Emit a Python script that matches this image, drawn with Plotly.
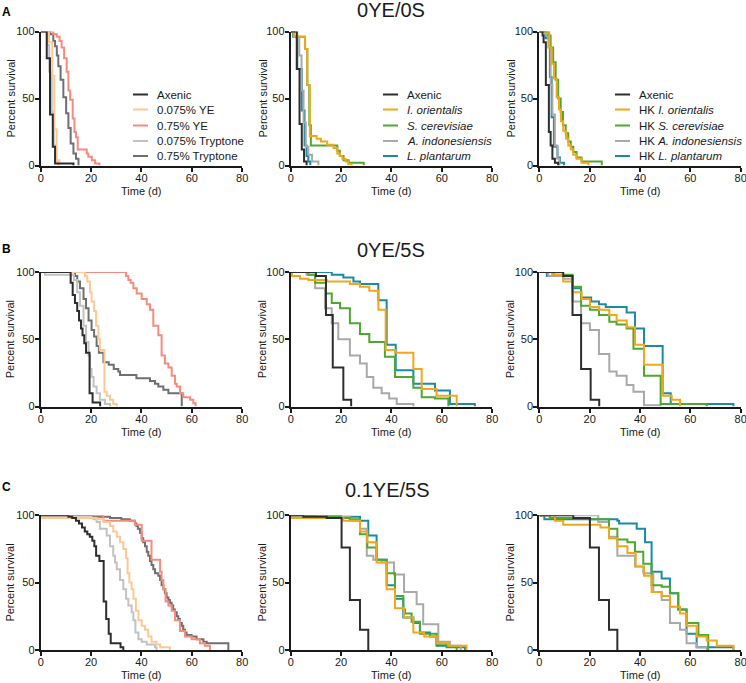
import plotly.graph_objects as go

W, H = 746, 683

# ---------------- colours ----------------
COL_AXENIC = "#2e2e2e"
COL_YE075 = "#fcc995"
COL_YE75 = "#f58b7c"
COL_TRY075 = "#c2c2c2"
COL_TRY75 = "#6f6f6f"
COL_IORI = "#f2a71b"
COL_SCER = "#4ea830"
COL_AIND = "#a9a9a9"
COL_LPL = "#1b8aa6"

# ---------------- labels ----------------
row_titles = ["0YE/0S", "0YE/5S", "0.1YE/5S"]
panel_letters = ["A", "B", "C"]
x_ticks = [0, 20, 40, 60, 80]
y_ticks = [0, 50, 100]
legend_a1 = ["Axenic", "0.075% YE", "0.75% YE", "0.075% Tryptone", "0.75% Tryptone"]
legend_a2 = ["Axenic", "<i>I. orientalis</i>", "<i>S. cerevisiae</i>",
             "<i>A. indonesiensis</i>", "<i>L. plantarum</i>"]
legend_a3 = ["Axenic", "HK <i>I. orientalis</i>", "HK <i>S. cerevisiae</i>",
             "HK <i>A. indonesiensis</i>", "HK <i>L. plantarum</i>"]

# ---------------- data: row A (0YE/0S) ----------------
a1_axenic_t = [0, 2.4, 3.7, 4.8, 5.7, 13.0]
a1_axenic_s = [100, 80, 38, 14, 1.5, 0]
a1_ye075_t = [0, 3.3, 4.6, 5.4, 6.3, 7.4]
a1_ye075_s = [100, 92, 67, 27, 4, 0]
a1_ye75_t = [0, 5.0, 6.4, 7.5, 8.3, 9.3, 10.3, 11.0, 11.7, 12.7, 13.4, 14.0, 14.7, 18.3, 18.9, 20.3, 21.6, 23.3]
a1_ye75_s = [100, 98, 96, 93, 88, 80, 70, 56, 49, 35, 25, 21, 12, 9, 6.5, 4, 1.5, 0]
a1_try075_t = [0, 2.6, 3.4, 4.4, 5.2, 6.2, 7.0]
a1_try075_s = [100, 90, 70, 40, 15, 3, 0]
a1_try75_t = [0, 3.7, 5.0, 5.7, 6.4, 7.0, 7.9, 9.0, 10.1, 11.0, 11.9, 13.0, 14.0, 15.0]
a1_try75_s = [100, 98, 93, 89, 82, 74, 64, 51, 39, 28, 16.5, 9, 5, 0]

a2_axenic_t = [0, 2.4, 3.5, 4.4, 5.3, 6.3]
a2_axenic_s = [100, 72, 31, 12, 3, 0]
a2_iori_t = [0, 1.3, 5.7, 6.6, 7.6, 10.3, 12.0, 14.5, 17.0, 18.5, 19.5, 20.5, 21.8, 22.9, 24.2]
a2_iori_s = [100, 96, 87, 60, 22, 20, 18, 15.5, 13, 9, 7, 5, 3, 1, 0]
a2_scer_t = [0, 1.3, 5.7, 6.6, 7.4, 8.0, 18.5, 19.5, 21.0, 23.0, 29.0]
a2_scer_s = [100, 96, 87, 60, 30, 15, 11, 7, 4, 2, 0]
a2_aind_t = [0, 2.6, 3.4, 4.3, 5.1, 6.0, 7.0, 8.5, 11.0]
a2_aind_s = [100, 96, 82, 56, 32, 14, 8, 3, 0]
a2_lpl_t = [0, 1.0, 2.6, 4.4, 5.5, 6.3, 7.0, 7.8]
a2_lpl_s = [100, 96, 72, 41, 15, 7, 3, 0]

a3_axenic_t = [0, 1.3, 1.7, 2.6, 3.8, 4.5, 5.2, 6.2, 7.5]
a3_axenic_s = [100, 97, 92, 60, 25, 15, 5, 2, 0]
a3_iori_t = [0, 4.0, 4.9, 5.8, 6.9, 7.8, 8.6, 9.5, 10.6, 11.5, 12.5, 13.5, 14.8, 16.8, 19.5]
a3_iori_s = [100, 88, 76, 65, 51, 42, 33, 26, 20, 15, 12, 8, 5, 2, 0]
a3_scer_t = [0, 3.6, 4.5, 5.5, 6.5, 7.5, 8.5, 9.4, 10.5, 11.5, 12.5, 13.5, 14.8, 16.8, 24.8]
a3_scer_s = [100, 97, 88, 77, 64, 50, 40, 30, 24, 18, 14, 10, 6, 3, 0]
a3_aind_t = [0, 2.5, 3.6, 4.5, 5.2, 6.2, 7.2, 8.0]
a3_aind_s = [100, 97, 88, 60, 38, 15, 5, 0]
a3_lpl_t = [0, 2.5, 4.2, 4.9, 5.8, 7.2, 8.2, 9.8]
a3_lpl_s = [100, 95, 66, 36, 14, 6, 2, 0]

# ---------------- data: row B (0YE/5S) ----------------
b1_axenic_t = [0, 11.9, 12.7, 13.6, 14.5, 15.2, 16.0, 16.6, 17.3, 18.0, 19.4, 20.6, 23.6]
b1_axenic_s = [100, 92, 83, 77, 71, 64, 58, 53, 47, 40, 10, 3, 0]
b1_ye075_t = [0, 17.6, 18.5, 19.6, 20.2, 21.2, 22.0, 22.9, 23.5, 25.3, 26.2, 27.5, 28.8, 30.2]
b1_ye075_s = [100, 97, 93, 85, 78, 71, 60, 50, 42, 11, 8, 5, 2, 0]
b1_ye75_t = [0, 33.9, 34.8, 35.7, 36.8, 38.1, 40.1, 42.1, 43.4, 44.7, 46.7, 48.0, 49.3, 50.7, 52.0, 53.3, 54.0, 55.3, 56.6, 59.3, 60.6, 61.5]
b1_ye75_s = [100, 97, 94, 92, 88, 84, 80, 76, 72, 60, 53, 38, 32, 29, 23, 17, 15, 10, 7, 5, 2.5, 0]
b1_try075_t = [0, 1.7, 13.2, 14.5, 15.6, 17.0, 18.0, 19.0, 19.6, 20.2, 21.0, 22.2, 23.5, 25.5, 27.5]
b1_try075_s = [100, 98, 94, 85, 75, 60, 48, 38, 28, 22, 15, 10, 5, 2, 0]
b1_try75_t = [0, 13.6, 14.5, 15.6, 17.0, 18.0, 19.0, 20.2, 21.2, 22.2, 23.1, 24.9, 27.0, 29.0, 30.8, 31.5, 38.0, 43.4, 45.4, 46.7, 48.7, 50.7, 56.0]
b1_try75_s = [100, 97, 93, 88, 80, 73, 64, 57, 52, 45, 40, 33, 31, 28, 26, 23.5, 21, 19, 17, 15, 12.5, 10, 0]

b2_axenic_t = [0, 10.0, 14.0, 16.7, 20.9, 24.0]
b2_axenic_s = [100, 97, 68, 29, 5, 0]
b2_iori_t = [0, 0.5, 3.7, 7.0, 14.3, 23.5, 27.5, 31.2, 34.8, 37.7, 41.4, 48.7, 52.0, 57.9, 65.9]
b2_iori_s = [100, 97, 95, 94, 93, 91, 89, 86, 72, 42, 40, 28, 13, 8, 0]
b2_scer_t = [0, 7.0, 9.7, 14.0, 16.3, 19.6, 23.5, 27.5, 31.2, 37.4, 41.4, 48.7, 52.0, 57.3, 62.6]
b2_scer_s = [100, 98, 92, 84, 77, 73, 62, 54, 48, 37, 22, 14, 7, 6, 0]
b2_aind_t = [0, 6.3, 9.7, 13.6, 16.3, 18.9, 23.5, 27.5, 30.2, 32.8, 36.1, 39.1, 42.1, 48.7]
b2_aind_s = [100, 98, 88, 73, 62, 50, 38, 32, 22, 14, 10, 6, 2, 0]
b2_lpl_t = [0, 16.3, 20.9, 24.9, 27.5, 34.8, 38.1, 41.7, 48.7, 57.3, 63.2, 73.1]
b2_lpl_s = [100, 98, 96, 93, 91, 79, 46, 27, 17, 12, 2, 0]

b3_axenic_t = [0, 9.5, 13.2, 16.6, 20.4, 23.8]
b3_axenic_s = [100, 97, 68, 28, 5, 0]
b3_iori_t = [0, 5.0, 9.5, 13.2, 16.8, 20.1, 23.8, 27.8, 30.7, 34.7, 38.0, 41.6, 49.0, 52.6, 55.9]
b3_iori_s = [100, 98, 93, 85, 80, 74, 72, 68, 64, 59, 46, 31, 8, 5, 0]
b3_scer_t = [0, 5.7, 13.2, 16.6, 20.1, 23.7, 27.8, 30.7, 34.7, 37.4, 41.6, 48.2, 66.5]
b3_scer_s = [100, 98, 89, 75, 72, 68, 63, 61, 58, 43, 23, 2, 0]
b3_aind_t = [0, 3.6, 9.5, 13.2, 16.6, 20.1, 23.7, 27.8, 30.7, 34.7, 37.4, 41.6, 48.2]
b3_aind_s = [100, 97, 95, 78, 62, 57, 39, 26, 23, 16, 11, 1, 0]
b3_lpl_t = [0, 3.0, 13.2, 16.6, 20.6, 23.7, 26.4, 34.7, 38.0, 41.6, 49.0, 52.2, 77.1]
b3_lpl_s = [100, 97, 88, 81, 78, 76, 74, 70, 58, 45, 10, 2, 0]

# ---------------- data: row C (0.1YE/5S) ----------------
c1_axenic_t = [0, 11.0, 12.5, 14.0, 15.2, 16.4, 17.5, 18.5, 19.5, 20.5, 21.3, 22.0, 23.3, 25.0, 26.0, 27.0, 27.8, 31.7, 32.8]
c1_axenic_s = [100, 99, 98, 96, 94, 91, 88, 86, 84, 81, 77, 70, 66, 36, 23, 12, 5, 2, 0]
c1_ye075_t = [0, 0.5, 22.2, 25.0, 27.5, 28.8, 30.2, 31.5, 32.8, 33.9, 34.5, 35.2, 36.1, 36.8, 37.8, 38.8, 40.1, 41.4, 42.7, 44.0, 46.0, 47.4, 51.3]
c1_ye075_s = [100, 98, 97, 95, 92, 88, 84, 80, 75, 68, 57, 50, 45, 38, 29, 22, 18, 15, 10, 6, 4, 2, 0]
c1_ye75_t = [0, 24.9, 37.4, 40.1, 44.0, 47.4, 48.0, 48.7, 49.6, 50.7, 52.0, 53.3, 55.3, 57.3, 59.9, 63.2, 65.2, 67.2]
c1_ye75_s = [100, 96, 93, 81, 67, 58, 52, 45, 36, 33, 29, 22, 14, 10, 8, 5, 3, 0]
c1_try075_t = [0, 0.5, 20.9, 22.2, 23.5, 26.2, 27.5, 28.8, 29.5, 30.2, 31.5, 32.8, 33.9, 34.8, 36.1, 36.8, 37.6, 38.8, 40.1, 42.1, 45.4, 46.0]
c1_try075_s = [100, 98, 97, 95, 90, 85, 77, 70, 65, 60, 52, 45, 38, 33, 28, 22, 13, 8, 6, 4, 2, 0]
c1_try75_t = [0, 20.9, 27.5, 32.0, 35.4, 37.4, 38.0, 38.6, 39.4, 40.1, 40.7, 41.4, 42.1, 42.7, 43.4, 44.0, 44.7, 45.4, 46.7, 47.4, 48.0, 48.7, 49.3, 50.0, 50.7, 51.3, 52.0, 52.6, 53.3, 54.0, 54.6, 55.3, 56.0, 56.6, 57.3, 57.9, 59.9, 61.9, 64.6, 65.9, 74.5]
c1_try75_s = [100, 99, 98, 97, 96, 94, 92, 90, 87, 83, 80, 77, 73, 70, 66, 63, 60, 57, 55, 52, 48, 45, 42, 39, 37, 35, 33, 30, 28, 25, 23, 20, 18, 15, 13, 11, 10, 8, 6, 5, 0]

c2_axenic_t = [0, 5.0, 14.3, 20.2, 23.5, 27.5, 30.8]
c2_axenic_s = [100, 99, 98, 76, 37, 15, 0]
c2_iori_t = [0, 0.5, 20.9, 27.5, 30.4, 34.1, 38.1, 41.4, 45.0, 48.7, 53.0, 58.0, 62.6, 69.8]
c2_iori_s = [100, 98, 96, 88, 80, 65, 45, 31, 24, 13, 10, 5, 3, 0]
c2_scer_t = [0, 10.0, 19.6, 23.5, 27.5, 30.4, 34.1, 38.1, 41.4, 44.7, 45.4, 48.0, 51.3, 57.9, 61.9, 65.9]
c2_scer_s = [100, 99, 98, 97, 86, 76, 67, 57, 40, 30, 27, 21, 12, 4.5, 2.5, 0]
c2_aind_t = [0, 20.0, 23.5, 27.5, 30.2, 32.8, 36.1, 41.0, 45.0, 50.0, 52.6, 58.6, 63.2, 67.5]
c2_aind_s = [100, 99, 96, 90, 70, 67, 65, 56, 43, 34, 19, 6, 3, 0]
c2_lpl_t = [0, 20.0, 27.5, 30.8, 34.1, 38.1, 41.4, 44.7, 48.7, 51.3, 55.3, 57.9, 61.9, 69.2]
c2_lpl_s = [100, 99, 96, 85, 67, 48, 38, 24, 20, 13, 10, 3, 2, 0]

c3_axenic_t = [0, 13.5, 20.1, 23.7, 27.7, 31.0]
c3_axenic_s = [100, 98, 76, 37, 15, 0]
c3_iori_t = [0, 6.2, 9.5, 24.3, 27.7, 31.0, 35.0, 38.3, 41.6, 44.6, 48.6, 51.9, 55.9, 58.5, 62.5, 66.5, 70.5, 77.1]
c3_iori_s = [100, 96, 93, 91, 83, 77, 72, 62, 55, 43, 40, 32, 27, 18, 10, 7, 3, 0]
c3_scer_t = [0, 4.2, 20.1, 27.7, 31.0, 35.0, 38.0, 41.3, 44.6, 48.6, 51.9, 55.2, 58.5, 63.2, 67.1]
c3_scer_s = [100, 98, 97, 90, 82, 80, 73, 64, 48, 47, 42, 30, 20, 11, 0]
c3_aind_t = [0, 23.4, 27.7, 31.0, 38.0, 41.3, 45.3, 48.6, 51.9, 55.9, 58.5, 62.5, 66.5]
c3_aind_s = [100, 95, 84, 70, 62, 57, 43, 37, 20, 15, 5, 2, 0]
c3_lpl_t = [0, 2.0, 31.0, 31.7, 38.7, 42.0, 44.6, 48.6, 51.9, 55.2, 58.5, 62.5, 77.1]
c3_lpl_s = [100, 97, 96, 94, 90, 80, 58, 53, 42, 30, 12, 2, 0]

# ---------------- assemble panels (drawing order: last on top) ----------------
panels = [
    [(a1_try75_t, a1_try75_s, COL_TRY75), (a1_try075_t, a1_try075_s, COL_TRY075),
     (a1_ye75_t, a1_ye75_s, COL_YE75), (a1_ye075_t, a1_ye075_s, COL_YE075),
     (a1_axenic_t, a1_axenic_s, COL_AXENIC)],
    [(a2_lpl_t, a2_lpl_s, COL_LPL), (a2_aind_t, a2_aind_s, COL_AIND),
     (a2_scer_t, a2_scer_s, COL_SCER), (a2_iori_t, a2_iori_s, COL_IORI),
     (a2_axenic_t, a2_axenic_s, COL_AXENIC)],
    [(a3_lpl_t, a3_lpl_s, COL_LPL), (a3_aind_t, a3_aind_s, COL_AIND),
     (a3_scer_t, a3_scer_s, COL_SCER), (a3_iori_t, a3_iori_s, COL_IORI),
     (a3_axenic_t, a3_axenic_s, COL_AXENIC)],
    [(b1_try75_t, b1_try75_s, COL_TRY75), (b1_try075_t, b1_try075_s, COL_TRY075),
     (b1_ye75_t, b1_ye75_s, COL_YE75), (b1_ye075_t, b1_ye075_s, COL_YE075),
     (b1_axenic_t, b1_axenic_s, COL_AXENIC)],
    [(b2_lpl_t, b2_lpl_s, COL_LPL), (b2_aind_t, b2_aind_s, COL_AIND),
     (b2_scer_t, b2_scer_s, COL_SCER), (b2_iori_t, b2_iori_s, COL_IORI),
     (b2_axenic_t, b2_axenic_s, COL_AXENIC)],
    [(b3_lpl_t, b3_lpl_s, COL_LPL), (b3_aind_t, b3_aind_s, COL_AIND),
     (b3_scer_t, b3_scer_s, COL_SCER), (b3_iori_t, b3_iori_s, COL_IORI),
     (b3_axenic_t, b3_axenic_s, COL_AXENIC)],
    [(c1_try75_t, c1_try75_s, COL_TRY75), (c1_try075_t, c1_try075_s, COL_TRY075),
     (c1_ye75_t, c1_ye75_s, COL_YE75), (c1_ye075_t, c1_ye075_s, COL_YE075),
     (c1_axenic_t, c1_axenic_s, COL_AXENIC)],
    [(c2_lpl_t, c2_lpl_s, COL_LPL), (c2_aind_t, c2_aind_s, COL_AIND),
     (c2_scer_t, c2_scer_s, COL_SCER), (c2_iori_t, c2_iori_s, COL_IORI),
     (c2_axenic_t, c2_axenic_s, COL_AXENIC)],
    [(c3_lpl_t, c3_lpl_s, COL_LPL), (c3_aind_t, c3_aind_s, COL_AIND),
     (c3_scer_t, c3_scer_s, COL_SCER), (c3_iori_t, c3_iori_s, COL_IORI),
     (c3_axenic_t, c3_axenic_s, COL_AXENIC)],
]

legend_colors_a1 = [COL_AXENIC, COL_YE075, COL_YE75, COL_TRY075, COL_TRY75]
legend_colors_sp = [COL_AXENIC, COL_IORI, COL_SCER, COL_AIND, COL_LPL]

# ---------------- layout geometry (pixels) ----------------
rows_px = [(31.5, 165.5), (272.0, 406.6), (515.3, 649.9)]
cols_px = [(40.7, 242.2), (290.7, 492.2), (539.3, 740.7)]
FONT = "Liberation Sans, Arial, Helvetica, sans-serif"
INK = "#1a1a1a"


def px(x):
    return x / W


def py(y):
    return 1 - y / H


fig = go.Figure()
layout = dict(
    width=W, height=H, margin=dict(l=0, r=0, t=0, b=0, autoexpand=False),
    paper_bgcolor="white", plot_bgcolor="white", showlegend=False,
    font=dict(family=FONT, color=INK),
)
annotations = []
shapes = []

for i, series in enumerate(panels):
    r, c = divmod(i, 3)
    n = "" if i == 0 else str(i + 1)
    xa, ya = "x" + n, "y" + n
    for t, s, col in series:
        fig.add_trace(go.Scatter(
            x=t, y=s, mode="lines", line=dict(color=col, width=2, shape="hv"),
            xaxis=xa, yaxis=ya, cliponaxis=False, hoverinfo="skip"))
    (x0, x1), (y0, y1) = cols_px[c], rows_px[r]
    axstyle = dict(showline=True, linecolor=INK, linewidth=2, ticks="outside",
                   ticklen=4, tickwidth=1.5, tickcolor=INK, showgrid=False,
                   zeroline=False, automargin=False, ticklabeloverflow="allow",
                   tickfont=dict(size=11, family=FONT, color=INK))
    layout["xaxis" + n] = dict(domain=[px(x0), px(x1)], range=[0, 80],
                               tickvals=x_ticks, anchor=ya, ticklabelstandoff=-3,
                               **axstyle)
    layout["yaxis" + n] = dict(domain=[py(y1), py(y0)], range=[0, 100],
                               tickvals=y_ticks, anchor=xa, ticklabelstandoff=-2,
                               **axstyle)
    # axis titles
    annotations.append(dict(text="Time (d)", x=px((x0 + x1) / 2), y=py(y1 + 25.5),
                            xref="paper", yref="paper", showarrow=False,
                            font=dict(size=11, family=FONT, color=INK),
                            xanchor="center", yanchor="middle"))
    ytx = [10, 262, 510][c]
    annotations.append(dict(text="Percent survival", x=px(ytx), y=py((y0 + y1) / 2),
                            xref="paper", yref="paper", showarrow=False, textangle=-90,
                            font=dict(size=11, family=FONT, color=INK),
                            xanchor="center", yanchor="middle"))

# row titles: first as the layout title (top edge), others as annotations
layout["title"] = dict(text=row_titles[0], x=px(391), xanchor="center",
                       xref="container", yref="container", y=1 - 2.7 / H,
                       yanchor="top", pad=dict(t=0, b=0, l=0, r=0),
                       font=dict(size=20, family=FONT, color=INK))
title_pos = [(391, 250), (387, 489.5)]
for (tx, ty), txt in zip(title_pos, row_titles[1:]):
    annotations.append(dict(text=txt, x=px(tx), y=py(ty), xref="paper", yref="paper",
                            showarrow=False, font=dict(size=20, family=FONT, color=INK),
                            xanchor="center", yanchor="middle"))
letter_pos = [(6.5, 12.5), (6.5, 249), (6.5, 487.5)]
for (lx, ly), txt in zip(letter_pos, panel_letters):
    annotations.append(dict(text="<b>" + txt + "</b>", x=px(lx), y=py(ly), xref="paper",
                            yref="paper", showarrow=False,
                            font=dict(size=12, family=FONT, color="#000"),
                            xanchor="center", yanchor="middle"))

# legends (row A only)
leg_y = [94.5, 109.5, 125.5, 141.0, 156.0]
leg_defs = [(133, legend_a1, legend_colors_a1), (383, legend_a2, legend_colors_sp),
            (615, legend_a3, legend_colors_sp)]
for lx, labels, cols in leg_defs:
    for ly, lab, col in zip(leg_y, labels, cols):
        shapes.append(dict(type="line", xref="paper", yref="paper",
                           x0=px(lx), x1=px(lx + 15), y0=py(ly), y1=py(ly),
                           line=dict(color=col, width=2)))
        annotations.append(dict(text=lab, x=px(lx + 22), y=py(ly), xref="paper",
                                yref="paper", showarrow=False,
                                font=dict(size=11.5, family=FONT, color=INK),
                                xanchor="left", yanchor="middle"))

layout["annotations"] = annotations
layout["shapes"] = shapes
fig.update_layout(**layout)
fig.write_html(
    "out.html",
    config={"displayModeBar": False, "responsive": False},
    post_script=(
        "document.documentElement.style.margin='0';"
        "document.documentElement.style.overflow='hidden';"
        "document.body.style.margin='0';document.body.style.overflow='hidden';"
        "var gd=document.getElementById('{plot_id}');"
        "gd.style.position='fixed';gd.style.left='0px';gd.style.top='0px';"
    ),
)
